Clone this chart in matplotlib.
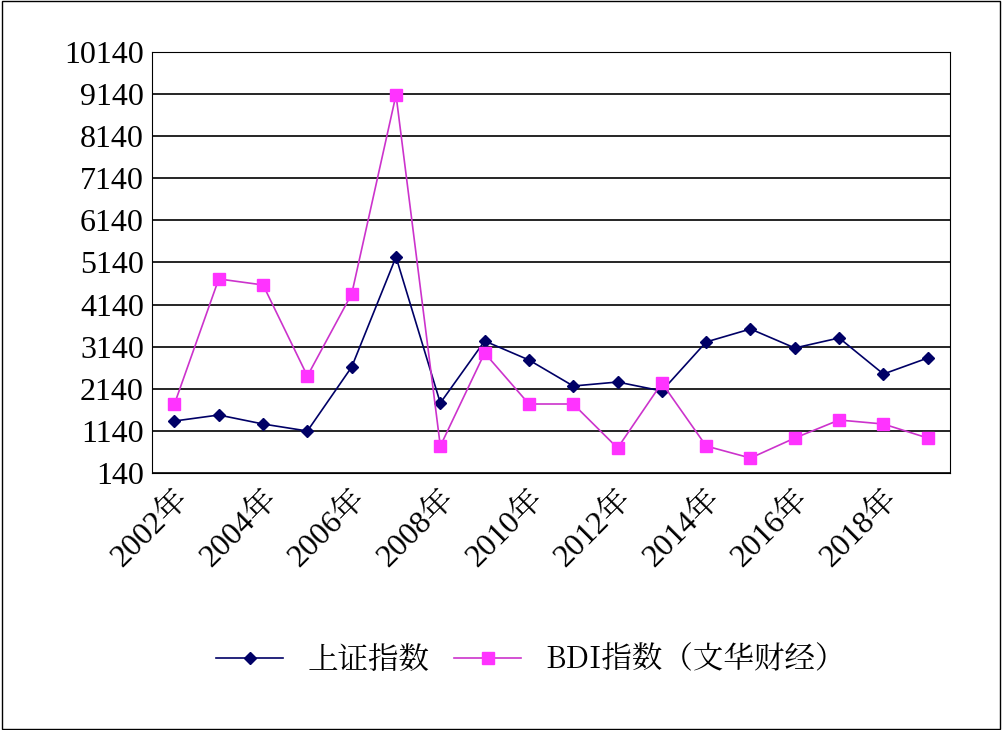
import matplotlib
matplotlib.use("Agg")
import matplotlib.pyplot as plt
from matplotlib import font_manager
import numpy as np

years = list(range(2002, 2020))
shanghai = [1375, 1518, 1304, 1138, 2658, 5270, 1803, 3275, 2824, 2206,
            2301, 2088, 3252, 3560, 3109, 3347, 2491, 2871]
bdi = [1779, 4748, 4605, 2444, 4392, 9119, 781, 2990, 1779, 1779,
       734, 2278, 781, 496, 971, 1399, 1304, 971]
yticks = list(range(140, 10141, 1000))

# find a CJK font file directly, the name lookup is unreliable
cjk_path = None
for f in font_manager.findSystemFonts():
    if "NotoSansCJK" in f.replace(" ", "") or "NotoSerifCJK" in f.replace(" ", ""):
        cjk_path = f
        break
if cjk_path:
    font_manager.fontManager.addfont(cjk_path)
    cjk_name = font_manager.FontProperties(fname=cjk_path).get_name()
else:
    cjk_name = "Noto Sans CJK SC"

plt.rcParams["font.family"] = ["Liberation Serif", cjk_name]

fig = plt.figure(figsize=(10.02, 7.3), dpi=100)
fig.patches.append(plt.Rectangle((0.002, 0.002), 0.996, 0.996, transform=fig.transFigure,
                                 fill=False, edgecolor="black", linewidth=1))
ax = fig.add_axes([0.152, 0.352, 0.796, 0.577])

x = np.arange(len(years))
ax.plot(x, shanghai, color="#000066", marker="D", markersize=6, linewidth=1.2,
        label="上证指数")
ax.plot(x, bdi, color="#cc33cc", marker="s", markersize=9, markerfacecolor="#ff33ff",
        markeredgecolor="#ff33ff", linewidth=1.2, label="BDI指数（文华财经）")

ax.set_xlim(-0.5, len(years) - 0.5)
ax.set_ylim(140, 10140)
ax.set_yticks(yticks)
ax.set_yticklabels([str(v) for v in yticks], fontsize=23)
ax.yaxis.grid(True, color="black", linewidth=1.2)
ax.set_axisbelow(True)
ax.tick_params(axis="y", length=0, pad=6)

ax.set_xticks(x[::2])
ax.set_xticklabels([f"{y}年" for y in years[::2]], rotation=45, ha="right",
                   rotation_mode="anchor", fontsize=23)
ax.tick_params(axis="x", length=0, pad=8)
for s in ax.spines.values():
    s.set_color("black")

fig.legend(loc="center", bbox_to_anchor=(0.53, 0.095), ncol=2, frameon=False,
           handlelength=2.2, columnspacing=0.8,
           prop={"family": [cjk_name], "size": 22})

fig.savefig("out.png", dpi=100)
